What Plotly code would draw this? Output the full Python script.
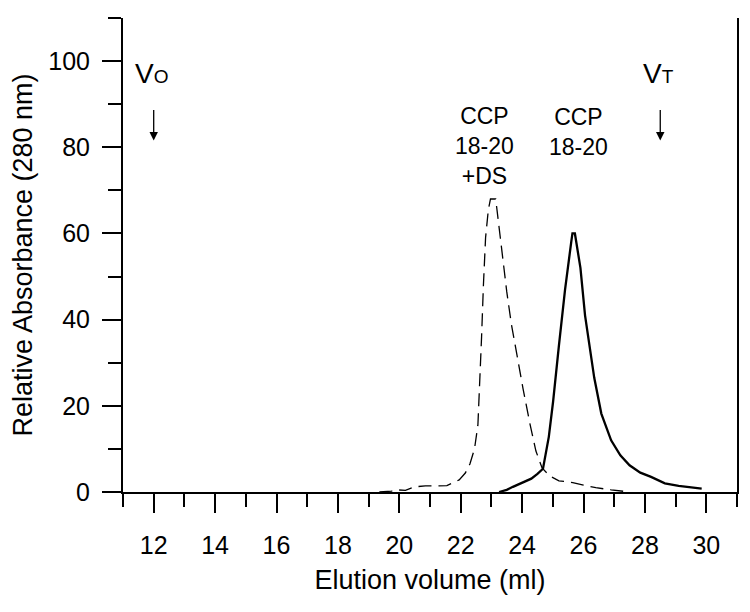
import plotly.graph_objects as go

# Elution profile of CCP 18-20 + DS (dashed)
ds_volume = [19.35, 19.75, 19.9, 20.2, 20.5, 20.85, 21.2, 21.55, 21.95, 22.15, 22.3, 22.45,
             22.56, 22.62, 22.68, 22.74, 22.81, 22.9, 22.97, 23.14, 23.22, 23.35, 23.5,
             23.65, 23.82, 24.03, 24.25, 24.45, 24.65, 24.9, 25.2, 25.65, 26.0, 26.4, 26.9, 27.5]
ds_abs = [0, 0.2, 0.5, 0.4, 1.2, 1.4, 1.4, 1.5, 2.8, 4.4, 6.5, 10,
          15.5, 24, 36, 48, 59, 65.5, 68, 68, 63, 55, 46.5,
          39, 32, 24, 16, 9.5, 5.6, 3.7, 2.6, 2.2, 1.6, 1.0, 0.5, 0]

# Elution profile of CCP 18-20 alone (solid)
ccp_volume = [23.25, 23.5, 23.7, 24.0, 24.3, 24.5, 24.68, 24.87, 25.01, 25.2, 25.4, 25.6,
              25.64, 25.72, 25.9, 26.05, 26.2, 26.35, 26.58, 26.9, 27.2, 27.5, 27.85,
              28.2, 28.65, 29.1, 29.85]
ccp_abs = [0, 0.5, 1.2, 2.2, 3.1, 4.2, 5.4, 12.8, 21, 34, 47, 58,
           60, 60, 52, 41, 33.5, 26.5, 18.2, 12.0, 8.5, 6.2, 4.5,
           3.5, 2.0, 1.4, 0.8]

# Void (Vo) and total (Vt) volume markers
marker_volume = [12, 28.5]
marker_sub = ["O", "T"]

x_ticks = [12, 14, 16, 18, 20, 22, 24, 26, 28, 30]
y_ticks = [0, 20, 40, 60, 80, 100]

FONT = "Liberation Sans, Arial, sans-serif"

fig = go.Figure()
fig.add_trace(go.Scatter(x=ds_volume, y=ds_abs, mode="lines",
                         line=dict(color="black", width=1.3, dash="13px,7px"),
                         showlegend=False))
fig.add_trace(go.Scatter(x=ccp_volume, y=ccp_abs, mode="lines",
                         line=dict(color="black", width=2.3),
                         showlegend=False))

annotations = []
for v, s in zip(marker_volume, marker_sub):
    annotations.append(dict(x=v - 0.07, y=97.2, xref="x", yref="y",
                            text="V<span style='font-size:19px'>%s</span>" % s,
                            showarrow=False, font=dict(size=28, family=FONT, color="black")))
    annotations.append(dict(x=v, y=81.6, xref="x", yref="y", text="",
                            showarrow=True, ax=0, ay=-32, axref="pixel", ayref="pixel",
                            arrowhead=2, arrowsize=1.3, arrowwidth=1.3, arrowcolor="black"))

annotations.append(dict(x=22.78, y=80.3, xref="x", yref="y", text="CCP<br>18-20<br>+DS",
                        showarrow=False, font=dict(size=23, family=FONT, color="black")))
annotations.append(dict(x=25.83, y=83.6, xref="x", yref="y", text="CCP<br>18-20",
                        showarrow=False, font=dict(size=23, family=FONT, color="black")))

fig.update_layout(
    width=750, height=612,
    margin=dict(l=115, r=21, t=10, b=128, autoexpand=False),
    paper_bgcolor="white", plot_bgcolor="white",
    font=dict(family=FONT, color="black"),
    annotations=annotations,
    xaxis=dict(range=[11, 31], tickmode="array", tickvals=x_ticks, automargin=False,
               ticks="outside", ticklen=19, tickwidth=2, tickcolor="black",
               showline=True, linewidth=2, linecolor="black",
               showgrid=False, zeroline=False,
               tickfont=dict(size=25, family=FONT, color="black"),
               ticklabelstandoff=11,
               minor=dict(tickmode="linear", tick0=11, dtick=2, ticks="outside",
                          ticklen=13, tickwidth=2, tickcolor="black", showgrid=False),
               title=dict(text="Elution volume (ml)", standoff=12,
                          font=dict(size=27, family=FONT, color="black"))),
    yaxis=dict(range=[0, 110], tickmode="array", tickvals=y_ticks, automargin=False,
               ticks="outside", ticklen=19, tickwidth=2, tickcolor="black",
               showline=True, linewidth=2, linecolor="black", mirror=True,
               showgrid=False, zeroline=False,
               tickfont=dict(size=25, family=FONT, color="black"),
               ticklabelstandoff=7,
               minor=dict(tickmode="linear", tick0=10, dtick=20, ticks="outside",
                          ticklen=13, tickwidth=2, tickcolor="black", showgrid=False),
               title=dict(text="Relative Absorbance (280 nm)", standoff=10,
                          font=dict(size=27, family=FONT, color="black"))),
)

fig.write_html("out.html")
